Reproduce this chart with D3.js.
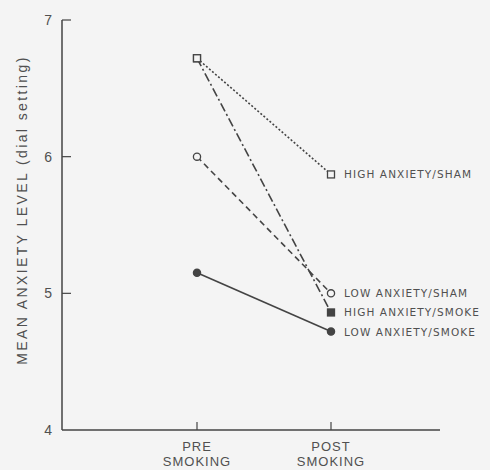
<!DOCTYPE html>
<html lang="en">
<head>
<meta charset="UTF-8">
<title>Mean anxiety level</title>
<script src="https://d3js.org/d3.v7.min.js"></script>
<style>
  body { margin: 0; padding: 0; background: #f4f4f4; }
  svg { display: block; background: #f4f4f4; }
  text { font-family: "Liberation Sans", Arial, sans-serif; fill: #505050; }
  .lab { font-family: "DejaVu Sans", sans-serif; }
</style>
</head>
<body>
<svg width="490" height="470"></svg>
<script>
// phases on the x axis
const phases = ["PRE SMOKING", "POST SMOKING"];
const yTicks = [4, 5, 6, 7];

// group names and their pre/post values
const groups = ["HIGH ANXIETY/SHAM", "LOW ANXIETY/SHAM", "HIGH ANXIETY/SMOKE", "LOW ANXIETY/SMOKE"];
const highSham = [6.72, 5.87];
const lowSham = [6.0, 5.0];
const highSmoke = [6.72, 4.86];
const lowSmoke = [5.15, 4.72];

const series = [
    { name: groups[2], values: highSmoke, marker: "square", filled: true, dash: "9,3,2,3" },
    { name: groups[0], values: highSham, marker: "square", filled: false, dash: "2,2" },
    { name: groups[1], values: lowSham, marker: "circle", filled: false, dash: "6,4" },
    { name: groups[3], values: lowSmoke, marker: "circle", filled: true, dash: null }
];

const ink = "#444";
const bg = "#f4f4f4";
const svg = d3.select("svg");

const x = d3.scalePoint().domain(phases).range([197, 331]);
const y = d3.scaleLinear().domain([4, 7]).range([430, 20]);
const x0 = 62, x1 = 440;

// axes
svg.append("line").attr("x1", x0).attr("x2", x0).attr("y1", y(7)).attr("y2", y(4))
    .attr("stroke", ink).attr("stroke-width", 1.5);
svg.append("line").attr("x1", x0).attr("x2", x1).attr("y1", y(4)).attr("y2", y(4))
    .attr("stroke", ink).attr("stroke-width", 1.5);

yTicks.forEach(t => {
    if (t > 4) {
        svg.append("line").attr("x1", x0).attr("x2", x0 + 9).attr("y1", y(t)).attr("y2", y(t))
            .attr("stroke", ink).attr("stroke-width", 1.2);
    }
    svg.append("text").attr("x", 52).attr("y", y(t) + 5)
        .attr("text-anchor", "end").attr("font-size", 14).text(t);
});

phases.forEach(p => {
    svg.append("line").attr("x1", x(p)).attr("x2", x(p)).attr("y1", y(4)).attr("y2", y(4) - 8)
        .attr("stroke", ink).attr("stroke-width", 1.2);
    const words = p.split(" ");
    words.forEach((w, i) => {
        svg.append("text").attr("x", x(p)).attr("y", y(4) + 21 + i * 15)
            .attr("text-anchor", "middle").attr("font-size", 13)
            .attr("letter-spacing", 1).text(w);
    });
});

svg.append("text")
    .attr("transform", `translate(27, 210) rotate(-90)`)
    .attr("text-anchor", "middle").attr("font-size", 14)
    .attr("letter-spacing", 2.4)
    .text("MEAN ANXIETY LEVEL (dial setting)");

// lines
const line = d3.line().x((d, i) => x(phases[i])).y(d => y(d));
svg.append("g").selectAll("path").data(series).join("path")
    .attr("d", d => line(d.values))
    .attr("fill", "none").attr("stroke", ink).attr("stroke-width", 1.6)
    .attr("stroke-dasharray", d => d.dash);

// markers
series.forEach(s => {
    s.values.forEach((v, i) => {
        const cx = x(phases[i]), cy = y(v);
        if (s.marker === "square") {
            svg.append("rect").attr("x", cx - 3.5).attr("y", cy - 3.5).attr("width", 7).attr("height", 7)
                .attr("fill", s.filled ? ink : bg).attr("stroke", ink).attr("stroke-width", 1.3);
        } else {
            svg.append("circle").attr("cx", cx).attr("cy", cy).attr("r", 3.6)
                .attr("fill", s.filled ? ink : bg).attr("stroke", ink).attr("stroke-width", 1.3);
        }
    });
    svg.append("text").attr("class", "lab").attr("x", x(phases[1]) + 13).attr("y", y(s.values[1]) + 4)
        .attr("font-size", 10.5).attr("letter-spacing", 1.1).text(s.name);
});
</script>
</body>
</html>
